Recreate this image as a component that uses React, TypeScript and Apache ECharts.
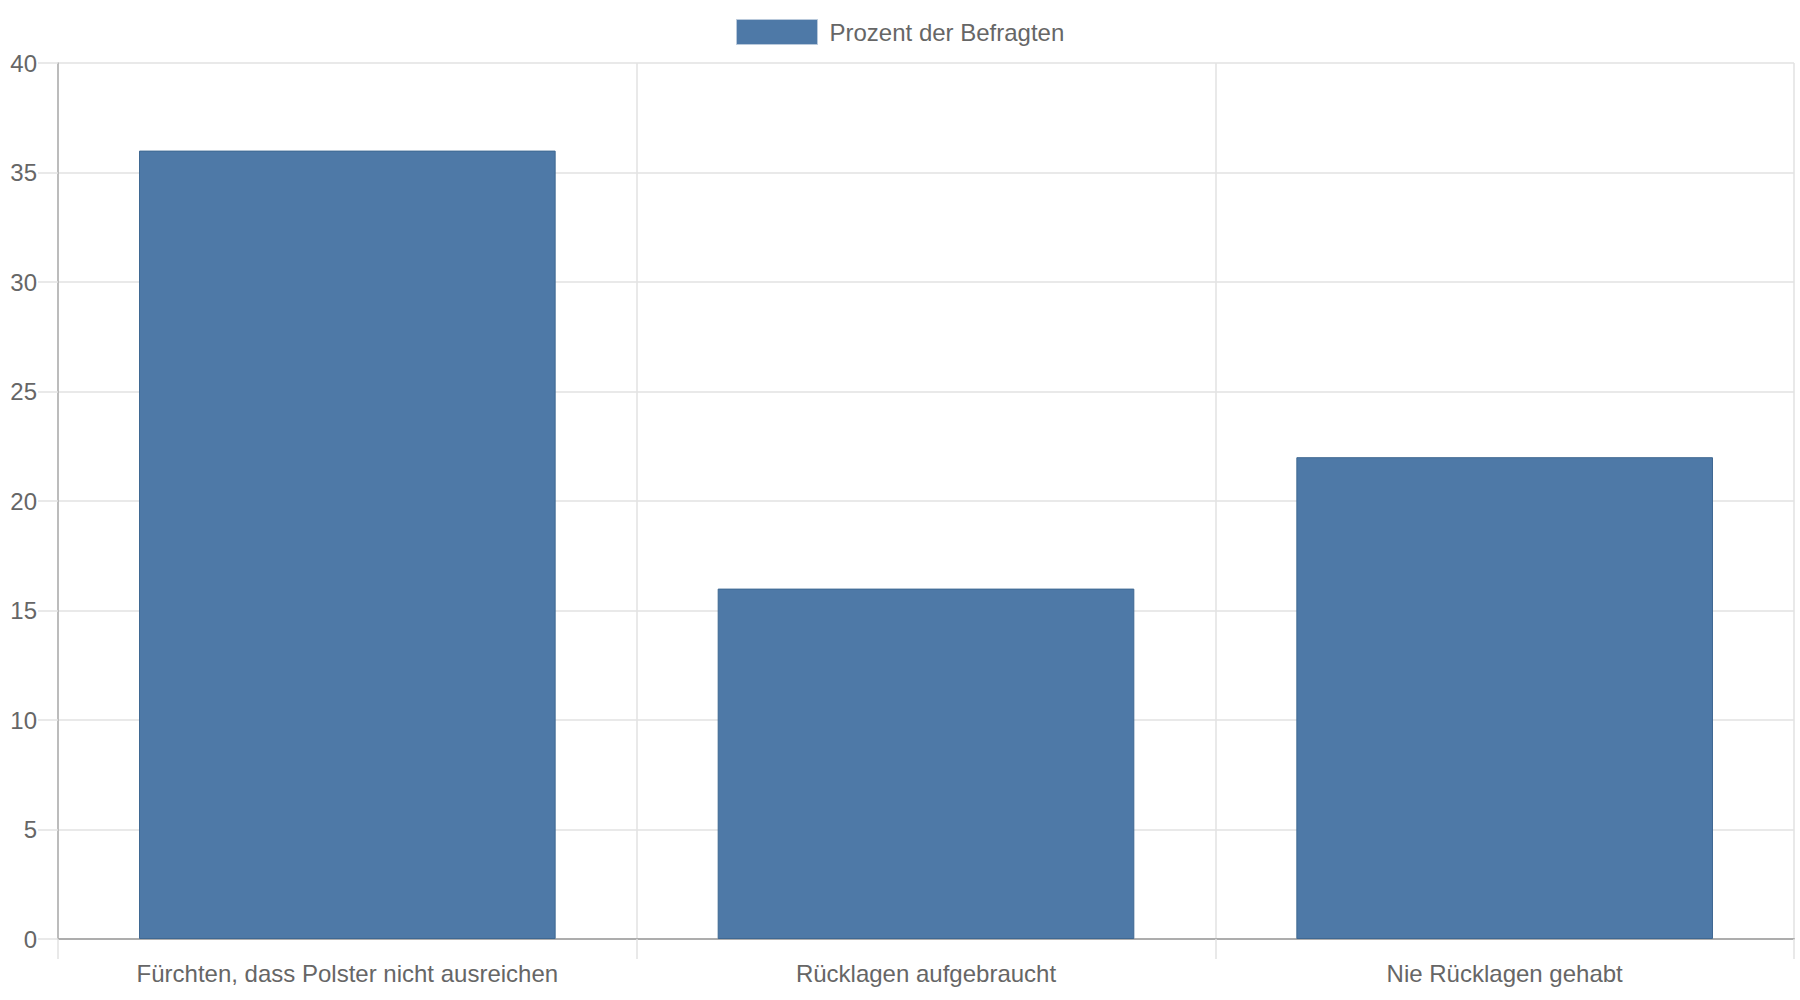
import React, { useEffect, useRef } from "react";
import * as echarts from "echarts";

const categories = [
  "Fürchten, dass Polster nicht ausreichen",
  "Rücklagen aufgebraucht",
  "Nie Rücklagen gehabt",
];
const seriesName = "Prozent der Befragten";
const values = [36, 16, 22];
const yMin = 0;
const yMax = 40;
const yStep = 5;

const FONT = "'Liberation Sans', Arial, Helvetica, sans-serif";
const TEXT = "#666666";
const GRID = "#e2e2e2";
const AXIS = "#adadad";

export default function App() {
  const ref = useRef<HTMLDivElement>(null);

  useEffect(() => {
    document.body.style.margin = "0";
    if (!ref.current) return;
    const chart = echarts.init(ref.current, undefined, { renderer: "svg" });
    chart.setOption({
      animation: false,
      backgroundColor: "#ffffff",
      textStyle: { fontFamily: FONT },
      legend: {
        left: 736,
        top: 19,
        padding: 0,
        itemWidth: 81,
        itemHeight: 25,
        icon: "rect",
        itemStyle: { borderColor: "#b9c9db", borderWidth: 1 },
        textStyle: {
          fontFamily: FONT,
          fontSize: 24,
          color: TEXT,
          padding: [0, 0, 0, 7],
        },
        data: [seriesName],
      },
      grid: { left: 58, right: 6, top: 63, bottom: 61, containLabel: false },
      xAxis: {
        type: "category",
        data: categories,
        boundaryGap: true,
        axisLine: { show: true, lineStyle: { color: AXIS, width: 2 } },
        axisTick: { show: true, length: 20, lineStyle: { color: GRID, width: 1.5 } },
        splitLine: { show: true, lineStyle: { color: GRID, width: 1.5 } },
        axisLabel: {
          fontFamily: FONT,
          fontSize: 24,
          color: TEXT,
          margin: 22,
          interval: 0,
        },
      },
      yAxis: {
        type: "value",
        min: yMin,
        max: yMax,
        interval: yStep,
        axisLine: { show: true, lineStyle: { color: AXIS, width: 1.5 } },
        axisTick: { show: true, length: 20, lineStyle: { color: GRID, width: 1.5 } },
        splitLine: { show: true, lineStyle: { color: GRID, width: 1.5 } },
        axisLabel: {
          fontFamily: FONT,
          fontSize: 24,
          color: TEXT,
          margin: 21,
        },
      },
      series: [
        {
          name: seriesName,
          type: "bar",
          data: values,
          barCategoryGap: "28%",
          itemStyle: {
            color: "#4e79a7",
            borderColor: "#3f6892",
            borderWidth: 1,
          },
        },
      ],
    });
    return () => chart.dispose();
  }, []);

  return <div ref={ref} style={{ width: 1800, height: 1000 }} />;
}
